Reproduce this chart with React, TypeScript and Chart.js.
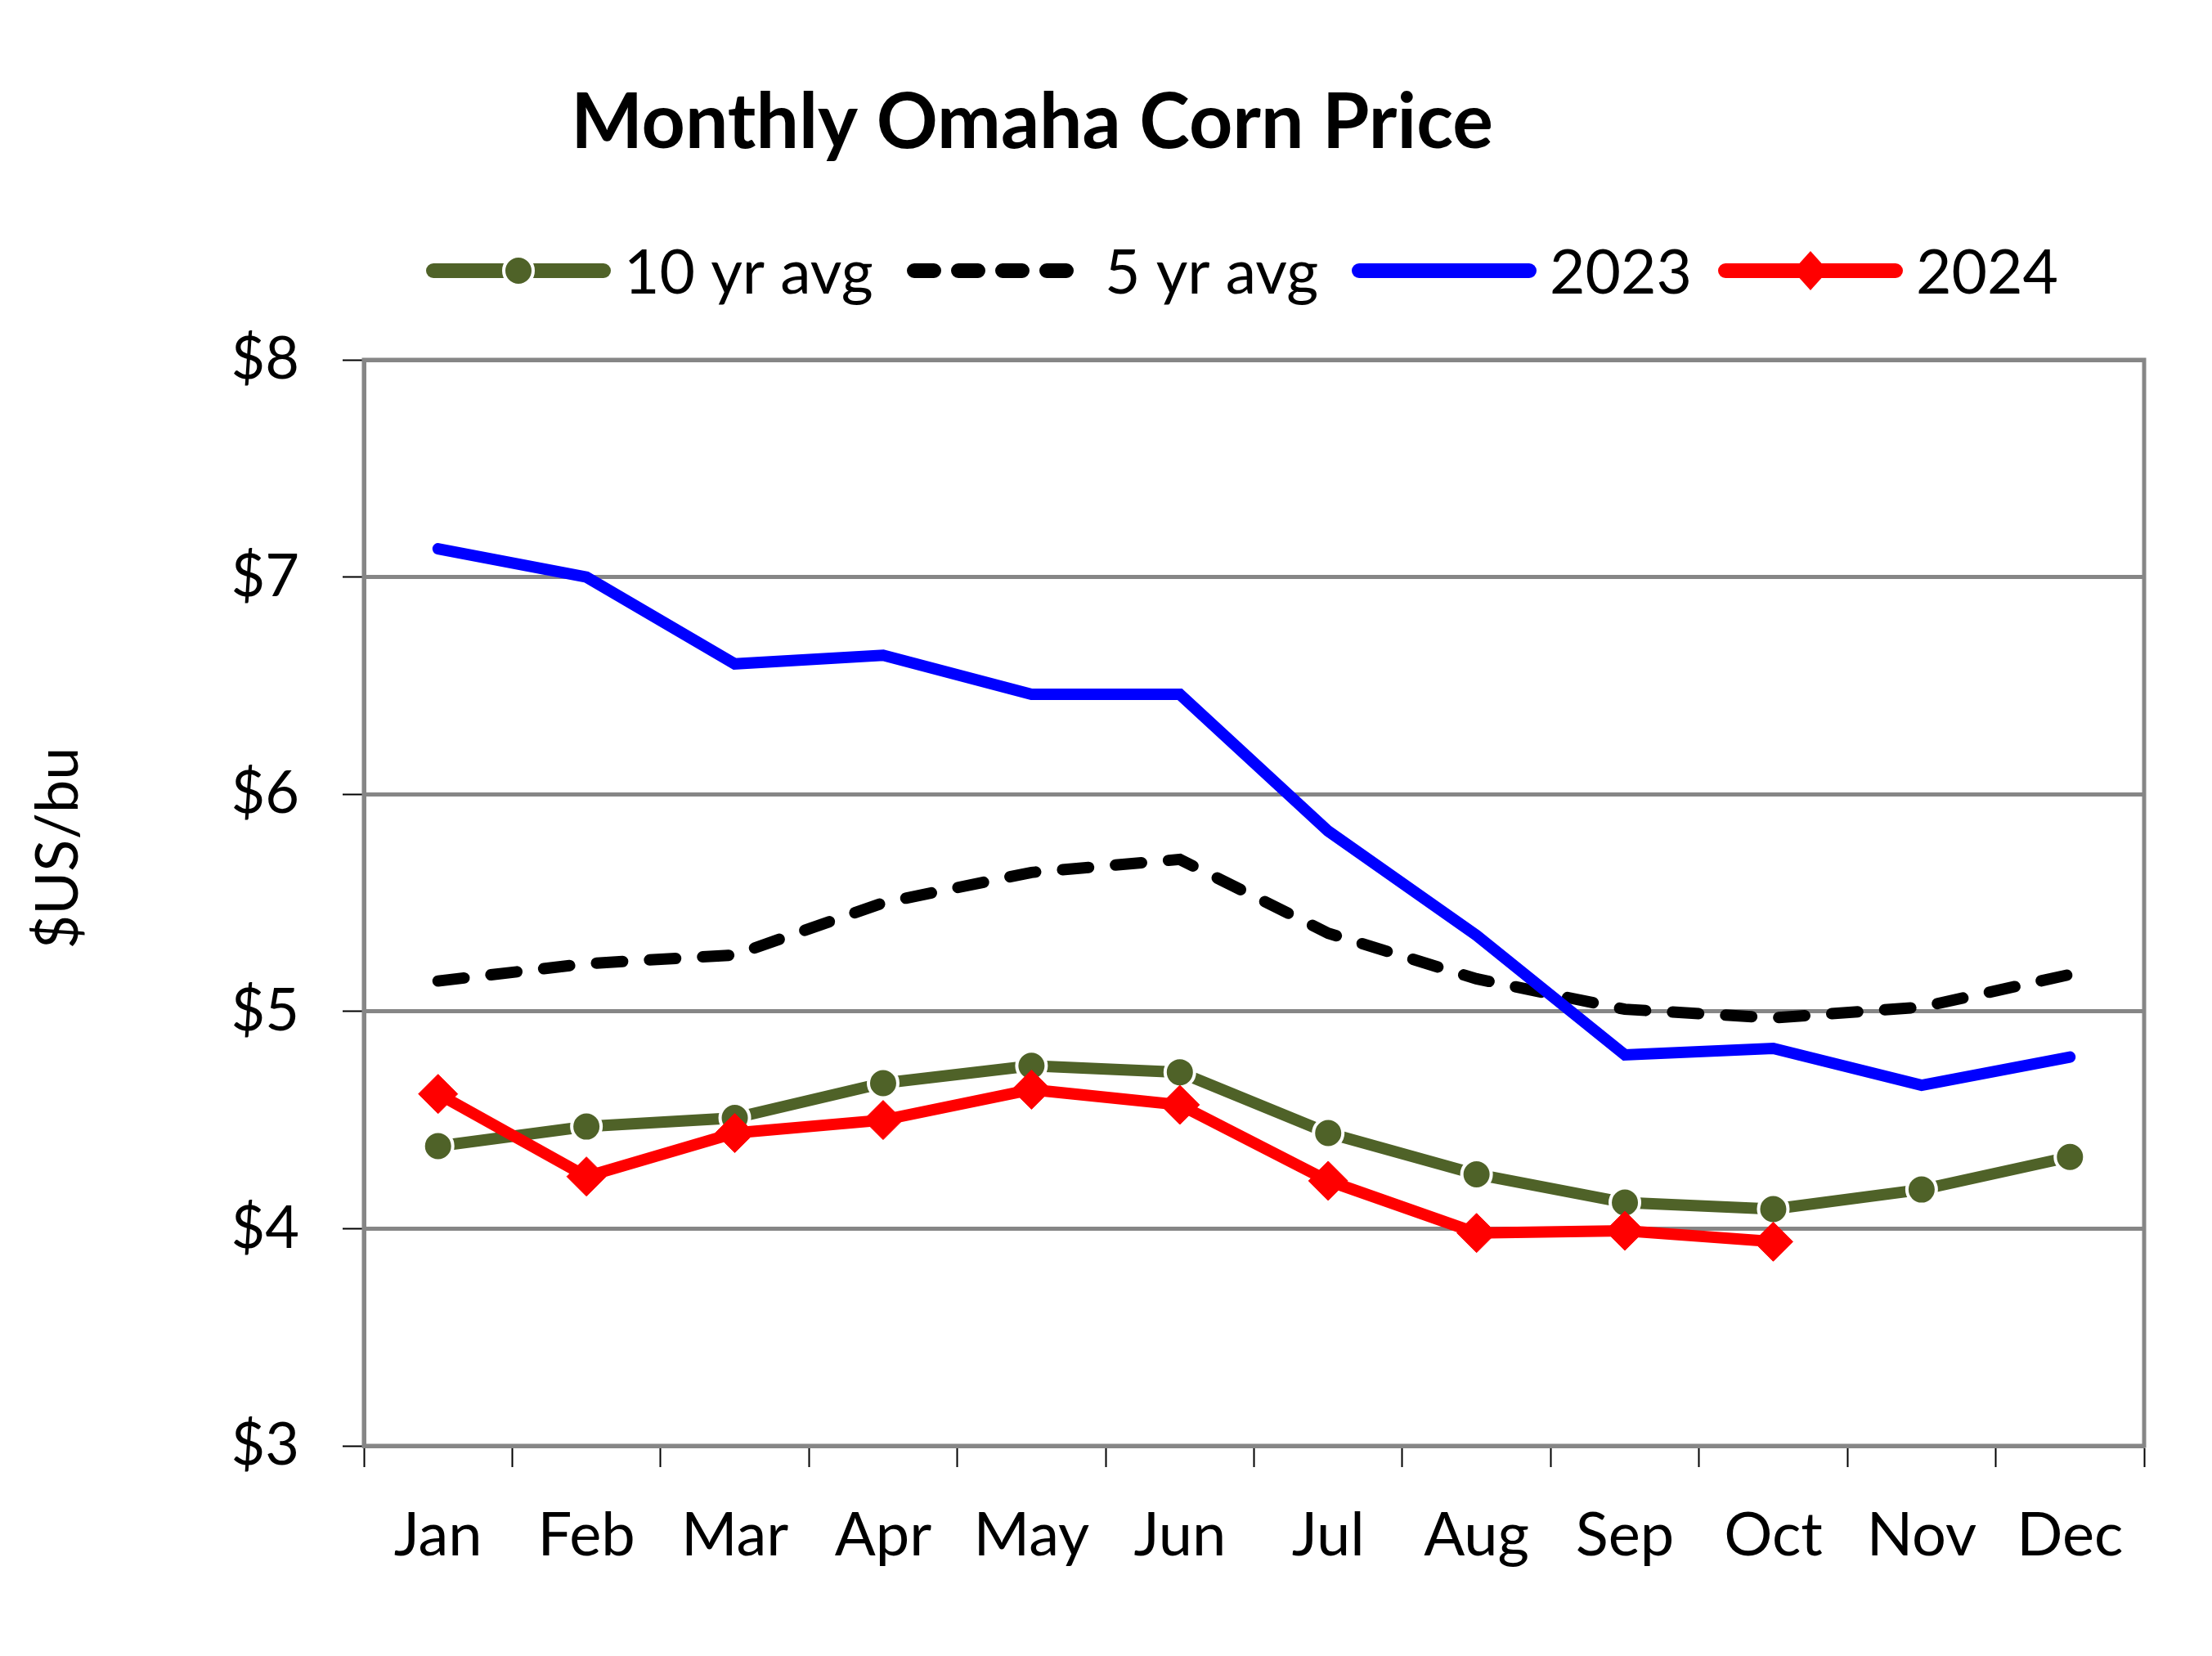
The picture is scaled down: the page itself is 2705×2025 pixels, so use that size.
import React, { useEffect, useRef } from "react";
import { Chart, registerables } from "chart.js";

Chart.register(...registerables);

const months = ["Jan", "Feb", "Mar", "Apr", "May", "Jun", "Jul", "Aug", "Sep", "Oct", "Nov", "Dec"];
const tenYrAvg = [4.38, 4.47, 4.51, 4.67, 4.75, 4.72, 4.44, 4.25, 4.12, 4.09, 4.18, 4.33];
const fiveYrAvg = [5.14, 5.22, 5.26, 5.5, 5.64, 5.7, 5.36, 5.15, 5.01, 4.97, 5.02, 5.17];
const y2023 = [7.13, 7.0, 6.6, 6.64, 6.46, 6.46, 5.83, 5.35, 4.8, 4.83, 4.66, 4.79];
const y2024: (number | null)[] = [4.62, 4.24, 4.44, 4.5, 4.64, 4.57, 4.22, 3.98, 3.99, 3.94, null, null];
const yTicks = [3, 4, 5, 6, 7, 8];

const FONT = "Lato";
const GREEN = "#4F6228";
const LINE_W = 14;
const LEGEND_LINE_W = 18;
const LEGEND_STARTS = [521, 1109, 1653, 2101];

const decorPlugin = {
  id: "decor",
  beforeDatasetsDraw(chart: any) {
    const { ctx, chartArea } = chart;
    const { left, right, top, bottom } = chartArea;
    ctx.save();
    ctx.strokeStyle = "#868686";
    ctx.lineWidth = 5;
    ctx.strokeRect(left, top, right - left, bottom - top);
    ctx.restore();
  },
  afterDraw(chart: any) {
    const { ctx } = chart;
    ctx.save();
    // Title
    ctx.fillStyle = "#000";
    ctx.font = `bold 93px ${FONT}`;
    ctx.textAlign = "center";
    ctx.textBaseline = "alphabetic";
    ctx.fillText("Monthly Omaha Corn Price", 1262, 181);

    // Y axis title
    ctx.save();
    ctx.translate(72, 1037);
    ctx.rotate(-Math.PI / 2);
    ctx.font = `72px ${FONT}`;
    ctx.textAlign = "center";
    ctx.textBaseline = "middle";
    ctx.fillText("$US/bu", 0, 0);
    ctx.restore();

    // Legend
    const lineY = 331;
    const lineLen = 226;
    ctx.font = `75px ${FONT}`;
    chart.data.datasets.forEach((ds: any, i: number) => {
      const x = LEGEND_STARTS[i];
      ctx.save();
      ctx.strokeStyle = ds.borderColor;
      ctx.lineWidth = LEGEND_LINE_W;
      ctx.lineCap = "round";
      ctx.setLineDash(ds.borderDash ? [24, 30] : []);
      ctx.beginPath();
      ctx.moveTo(x + LEGEND_LINE_W / 2, lineY);
      ctx.lineTo(x + lineLen - LEGEND_LINE_W / 2, lineY);
      ctx.stroke();
      ctx.setLineDash([]);
      const cx = x + lineLen / 2;
      if (ds.pointStyle === "circle" && ds.pointRadius > 0) {
        ctx.beginPath();
        ctx.arc(cx, lineY, ds.pointRadius, 0, Math.PI * 2);
        ctx.fillStyle = ds.pointBackgroundColor;
        ctx.fill();
        ctx.strokeStyle = ds.pointBorderColor;
        ctx.lineWidth = ds.pointBorderWidth;
        ctx.stroke();
      } else if (ds.pointStyle === "rectRot" && ds.pointRadius > 0) {
        const r = ds.pointRadius;
        ctx.beginPath();
        ctx.moveTo(cx, lineY - r);
        ctx.lineTo(cx + r * 0.9, lineY);
        ctx.lineTo(cx, lineY + r);
        ctx.lineTo(cx - r * 0.9, lineY);
        ctx.closePath();
        ctx.fillStyle = ds.pointBackgroundColor;
        ctx.fill();
      }
      ctx.restore();
      ctx.fillStyle = "#000";
      ctx.textAlign = "left";
      ctx.textBaseline = "alphabetic";
      ctx.fillText(ds.label, x + lineLen + 16, 359);
    });
    ctx.restore();
  },
};

export default function App() {
  const ref = useRef<HTMLCanvasElement>(null);
  useEffect(() => {
    if (!ref.current) return;
    const chart = new Chart(ref.current, {
      type: "line",
      data: {
        labels: months,
        datasets: [
          {
            label: "10 yr avg",
            data: tenYrAvg,
            borderColor: GREEN,
            backgroundColor: GREEN,
            borderWidth: LINE_W,
            pointStyle: "circle",
            pointRadius: 18,
            pointBackgroundColor: GREEN,
            pointBorderColor: "#FFFFFF",
            pointBorderWidth: 4,
            order: 4,
          } as any,
          {
            label: "5 yr avg",
            data: fiveYrAvg,
            borderColor: "#000000",
            backgroundColor: "#000000",
            borderWidth: LINE_W,
            borderDash: [32, 33],
            borderCapStyle: "round",
            pointRadius: 0,
            order: 3,
          } as any,
          {
            label: "2023",
            data: y2023,
            borderColor: "#0000FF",
            backgroundColor: "#0000FF",
            borderWidth: LINE_W,
            borderCapStyle: "round",
            pointRadius: 0,
            order: 2,
          } as any,
          {
            label: "2024",
            data: y2024,
            borderColor: "#FF0000",
            backgroundColor: "#FF0000",
            borderWidth: LINE_W,
            pointStyle: "rectRot",
            pointRadius: 24,
            pointBackgroundColor: "#FF0000",
            pointBorderColor: "#FF0000",
            pointBorderWidth: 1,
            order: 1,
          } as any,
        ],
      },
      options: {
        animation: false,
        responsive: false,
        devicePixelRatio: 1,
        layout: { padding: { top: 440, right: 83, left: 0, bottom: 0 } },
        plugins: {
          legend: { display: false },
          title: { display: false },
          tooltip: { enabled: false },
        },
        scales: {
          x: {
            offset: true,
            grid: {
              offset: true,
              drawOnChartArea: false,
              tickLength: 26,
              tickColor: "#000",
              tickWidth: 2,
            },
            border: { color: "#868686", width: 5 },
            ticks: {
              color: "#000",
              font: { family: FONT, size: 74 },
              padding: 40,
              maxRotation: 0,
              autoSkip: false,
            },
            afterFit: (scale: any) => {
              scale.height = 257;
            },
          },
          y: {
            min: 3,
            max: 8,
            afterBuildTicks: (scale: any) => {
              scale.ticks = yTicks.map((v) => ({ value: v }));
            },
            grid: {
              color: "#868686",
              lineWidth: 5,
              tickLength: 26,
              tickColor: "#000",
              tickWidth: 2,
            },
            border: { color: "#868686", width: 5 },
            ticks: {
              color: "#000",
              font: { family: FONT, size: 72 },
              padding: 53,
              callback: (v: any) => "$" + v,
            },
            afterFit: (scale: any) => {
              scale.width = 445;
            },
          },
        },
      },
      plugins: [decorPlugin],
    });
    return () => chart.destroy();
  }, []);
  return (
    <div style={{ position: "absolute", left: 0, top: 0, width: 2705, height: 2025, background: "#fff" }}>
      <canvas ref={ref} width={2705} height={2025} style={{ width: 2705, height: 2025, display: "block" }} />
    </div>
  );
}
